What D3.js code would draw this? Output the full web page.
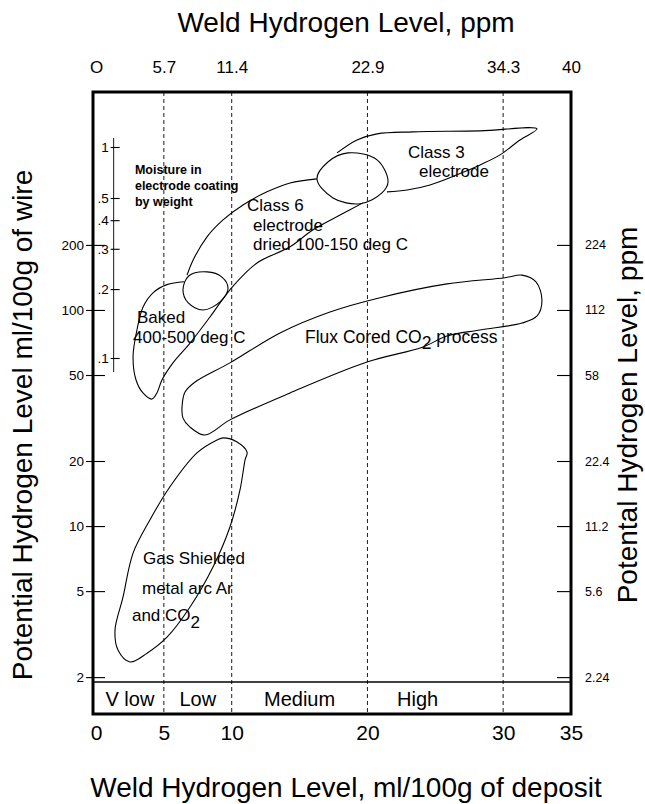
<!DOCTYPE html>
<html>
<head>
<meta charset="utf-8">
<script src="https://cdn.jsdelivr.net/npm/d3@7"></script>
<style>
  body { margin: 0; background: #fff; }
  svg { display: block; font-family: 'Liberation Sans', Arial, Helvetica, sans-serif; }
</style>
</head>
<body>
<svg id="chart" width="645" height="804"></svg>
<script>
// weld hydrogen, ml/100g of deposit (bottom) and the same positions in ppm (top)
const depositTicks = [0, 5, 10, 20, 30, 35];
const ppmTickLabels = ['O', '5.7', '11.4', '22.9', '34.3', '40'];
const dividerAt = [5, 10, 20, 30];

// potential hydrogen, ml/100g of wire (left) and ppm (right)
const wireTicks = [200, 100, 50, 20, 10, 5, 2];
const wirePpmLabels = ['224', '112', '58', '22.4', '11.2', '5.6', '2.24'];

// moisture in electrode coating, % by weight
const moistureTicks = [1, 0.5, 0.4, 0.3, 0.2, 0.1];
const moistureLabels = ['1', '.5', '.4', '.3', '.2', '.1'];

const bandNames = ['V low', 'Low', 'Medium', 'High'];
const bandCenters = [2.5, 7.5, 15, 23.7];
const bandFloor = 1.9;

// outlines as [deposit ml/100g, wire ml/100g]
const bakedEdge = [
  [6.5, 135], [5.23, 131], [4.2, 120], [3.46, 103], [3.02, 81], [2.73, 61], [2.95, 47.4],
  [3.46, 41.3], [4.13, 38.7], [4.49, 41.3], [4.86, 47.4], [5.67, 56.9], [6.93, 70.3],
  [8.4, 92.8], [9.87, 124], [11.86, 165], [14.3, 196], [15.99, 235], [17.98, 275], [19.67, 313]
];
const class6Top = [
  [6.71, 145], [7.15, 170], [8.18, 218], [9.36, 261], [10.83, 306], [12.6, 352], [14.3, 387], [16.28, 404]
];
const class3Edge = [
  [17.76, 533], [19.23, 612], [20.71, 653], [23.36, 667], [28.3, 674], [32.5, 689],
  [31.24, 612], [29.77, 522], [28.3, 469], [26.6, 422], [24.61, 379], [22.92, 359], [21.44, 352]
];
const smallOval = [
  [6.41, 124], [6.85, 144], [8.18, 150], [9.28, 142], [9.73, 126], [9.14, 109], [7.88, 100], [6.78, 108]
];
const bigOval = [
  [16.28, 404], [17.09, 484], [18.57, 533], [20.71, 495], [21.52, 392], [21.07, 348], [19.45, 310], [17.46, 330]
];
const fluxCored = [
  [6.34, 35.6], [6.56, 41.7], [7.3, 46.4], [9.87, 56.9], [13.56, 78.3], [17.24, 97.9], [20.93, 114],
  [25.86, 132], [30.14, 141], [31.39, 145], [32.42, 135], [32.86, 111], [32.5, 93.8], [31.39, 87],
  [28.3, 80.8], [25.86, 75.8], [24.1, 67.4], [19.97, 57.4], [14.3, 41.3], [9.87, 31], [8.03, 26.4],
  [6.93, 28.7], [6.41, 31.6]
];
const gasShielded = [
  [9.36, 25.6], [10.39, 24.5], [11.13, 22], [10.98, 20.2], [10.61, 14.7], [9.87, 9.9], [8.62, 6.46],
  [6.93, 4.22], [5.23, 3.06], [3.76, 2.58], [2.51, 2.35], [1.62, 2.67], [1.4, 3.3], [1.99, 4.69],
  [2.73, 7.5], [3.98, 10.7], [5.45, 15.2], [7.44, 21.8], [8.92, 25.0]
];

// region labels: [text, deposit, wire]
const regionLabels = [
  ['Class 3', 22.99, 505], ['electrode', 23.8, 411],
  ['Class 6', 11.13, 287], ['electrode', 11.57, 233], ['dried 100-150 deg C', 11.57, 189],
  ['Baked', 3.02, 87], ['400-500 deg C', 2.73, 70.3],
  ['Gas Shielded', 3.46, 6.67], ['metal arc Ar', 3.39, 4.84]
];
const moistureNote = ['Moisture in', 'electrode coating', 'by weight'];

const svg = d3.select('#chart');
const frame = { left: 93, right: 571, top: 92, bottom: 714 };

const x = d3.scaleLinear().domain([0, 35]).range([96, 571]);
const y = d3.scaleLog().domain([1.35, 1020]).range([frame.bottom, frame.top]);
const moistureY = d3.scaleLog().domain([0.1, 0.5, 1]).range([358, 198, 147]);

// dashed level dividers
svg.append('g')
  .selectAll('line')
  .data(dividerAt)
  .enter()
  .append('line')
  .attr('x1', d => x(d)).attr('x2', d => x(d))
  .attr('y1', frame.top).attr('y2', frame.bottom)
  .attr('stroke', '#000')
  .attr('stroke-width', 0.9)
  .attr('stroke-dasharray', '4,3');

svg.append('line')
  .attr('x1', frame.left).attr('x2', frame.right)
  .attr('y1', y(bandFloor)).attr('y2', y(bandFloor))
  .attr('stroke', '#000')
  .attr('stroke-width', 1.6);

// outlines
const openLine = d3.line().x(d => x(d[0])).y(d => y(d[1])).curve(d3.curveCatmullRom.alpha(0.5));
const closedLine = d3.line().x(d => x(d[0])).y(d => y(d[1])).curve(d3.curveCatmullRomClosed.alpha(0.5));

const shapes = svg.append('g').attr('fill', 'none').attr('stroke', '#000').attr('stroke-width', 1.1);
[bakedEdge, class6Top, class3Edge].forEach(pts => shapes.append('path').attr('d', openLine(pts)));
[smallOval, bigOval, fluxCored, gasShielded].forEach(pts => shapes.append('path').attr('d', closedLine(pts)));

// frame
svg.append('rect')
  .attr('x', frame.left).attr('y', frame.top)
  .attr('width', frame.right - frame.left).attr('height', frame.bottom - frame.top)
  .attr('fill', 'none')
  .attr('stroke', '#000')
  .attr('stroke-width', 3);

// axes
function styleAxis(g, size) {
  g.select('.domain').remove();
  g.selectAll('line').attr('stroke', '#000').attr('stroke-width', 1.1);
  g.selectAll('text').attr('fill', '#000').style('font-size', size + 'px').style('font-family', null);
}

svg.append('g')
  .attr('transform', `translate(0,${frame.bottom})`)
  .call(d3.axisBottom(x).tickValues(depositTicks).tickSize(0).tickPadding(11).tickFormat(d3.format('d')))
  .call(g => styleAxis(g, 21));

svg.append('g')
  .attr('transform', `translate(0,${frame.top})`)
  .call(d3.axisTop(x).tickValues(depositTicks).tickSize(0).tickPadding(19).tickFormat((d, i) => ppmTickLabels[i]))
  .call(g => styleAxis(g, 17));

svg.append('g')
  .attr('transform', `translate(${frame.left + 12},0)`)
  .call(d3.axisLeft(y).tickValues(wireTicks).tickSize(19).tickPadding(2).tickFormat(d3.format('d')))
  .call(g => styleAxis(g, 13.5));

svg.append('g')
  .attr('transform', `translate(${frame.right - 14},0)`)
  .call(d3.axisRight(y).tickValues(wireTicks).tickSize(14).tickPadding(14).tickFormat((d, i) => wirePpmLabels[i]))
  .call(g => styleAxis(g, 12.5));

// moisture scale
const mx = x(1.3);
svg.append('line')
  .attr('x1', mx).attr('x2', mx)
  .attr('y1', moistureY(1) - 9).attr('y2', moistureY(0.1) + 14)
  .attr('stroke', '#000').attr('stroke-width', 0.9);
svg.append('g')
  .attr('transform', `translate(${mx + 6},0)`)
  .call(d3.axisLeft(moistureY).tickValues(moistureTicks).tickSize(9).tickPadding(2).tickFormat((d, i) => moistureLabels[i]))
  .call(g => styleAxis(g, 13.5));

svg.append('text')
  .attr('x', x(2.87)).attr('y', y(426))
  .style('font-size', '12.5px').style('font-weight', 'bold')
  .selectAll('tspan')
  .data(moistureNote)
  .enter()
  .append('tspan')
  .attr('x', x(2.87))
  .attr('dy', (d, i) => (i ? 16 : 0))
  .text(d => d);

// band names
svg.append('g')
  .selectAll('text')
  .data(bandNames)
  .enter()
  .append('text')
  .attr('x', (d, i) => x(bandCenters[i]))
  .attr('y', frame.bottom - 8)
  .attr('text-anchor', 'middle')
  .style('font-size', '20px')
  .text(d => d);

// region labels
svg.append('g')
  .selectAll('text')
  .data(regionLabels)
  .enter()
  .append('text')
  .attr('x', d => x(d[1]))
  .attr('y', d => y(d[2]))
  .style('font-size', '17px')
  .text(d => d[0]);

const flux = svg.append('text').attr('x', x(15.4)).attr('y', y(70.3)).style('font-size', '17.5px');
flux.append('tspan').text('Flux Cored CO');
flux.append('tspan').attr('dy', 6).text('2');
flux.append('tspan').attr('dy', -6).text(' process');

const gas = svg.append('text').attr('x', x(2.65)).attr('y', y(3.63)).style('font-size', '17px');
gas.append('tspan').text('and CO');
gas.append('tspan').attr('dy', 7).text('2');

// titles
svg.append('text')
  .attr('x', 346).attr('y', 32)
  .attr('text-anchor', 'middle')
  .style('font-size', '28px')
  .text('Weld Hydrogen Level, ppm');

svg.append('text')
  .attr('x', 346).attr('y', 797)
  .attr('text-anchor', 'middle')
  .style('font-size', '28px')
  .text('Weld Hydrogen Level, ml/100g of deposit');

svg.append('text')
  .attr('transform', 'translate(32,425) rotate(-90)')
  .attr('text-anchor', 'middle')
  .style('font-size', '28px')
  .text('Potential Hydrogen Level ml/100g of wire');

svg.append('text')
  .attr('transform', 'translate(637,415) rotate(-90)')
  .attr('text-anchor', 'middle')
  .style('font-size', '28px')
  .text('Potental Hydrogen Level, ppm');
</script>
</body>
</html>
